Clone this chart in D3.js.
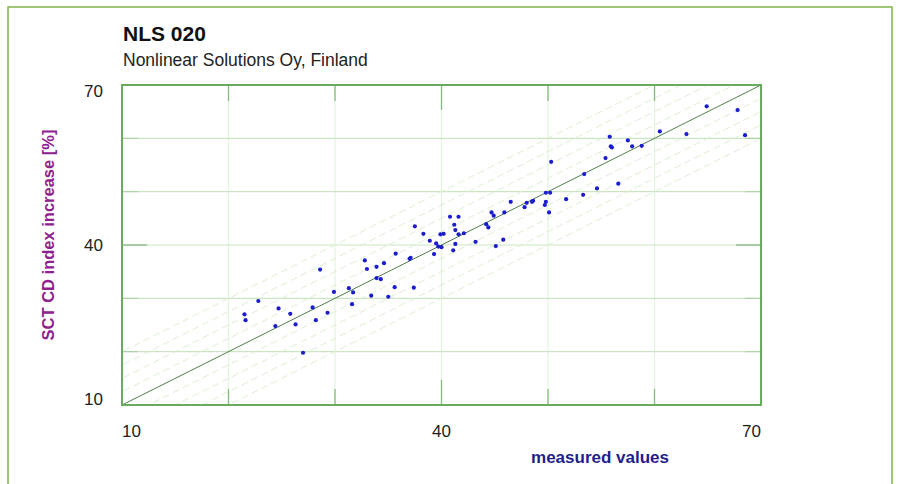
<!DOCTYPE html>
<html>
<head>
<script src="https://d3js.org/d3.v7.min.js"></script>
<style>
    body { margin: 0; background: #fff; }
    text { font-family: "Liberation Sans", Arial, sans-serif; }
</style>
</head>
<body>
<svg id="chart" width="898" height="484"></svg>
<script>
    // measured value vs SCT CD index increase [%]
    var measured = [21.5, 21.6, 22.8, 24.4, 24.7, 25.8, 26.3, 27.0, 27.9, 28.2,
        28.6, 29.3, 29.9, 31.3, 31.6, 31.7, 32.8, 33.0, 33.4, 33.9,
        33.9, 34.3, 34.6, 35.0, 35.6, 35.7, 37.0, 37.1, 37.4, 37.5,
        38.3, 38.9, 39.3, 39.5, 39.7, 40.0, 39.9, 40.2, 40.8, 41.2,
        41.3, 41.6, 41.6, 42.1, 41.3, 41.1, 43.2, 44.2, 44.4, 44.7,
        44.9, 45.1, 45.8, 45.9, 46.5, 47.8, 48.0, 48.5, 48.6, 49.7,
        49.8, 49.8, 50.2, 50.1, 50.3, 51.7, 53.3, 53.4, 54.6, 55.4,
        55.8, 55.9, 56.0, 56.6, 57.5, 57.9, 58.8, 60.5, 63.0, 64.9,
        67.8, 68.5];
    var sctIncrease = [27.0, 25.9, 29.5, 24.8, 28.1, 27.1, 25.1, 19.8, 28.3, 25.9,
        35.4, 27.3, 31.2, 31.9, 28.9, 31.1, 37.1, 35.5, 30.5, 35.9,
        33.8, 33.6, 36.6, 30.3, 32.1, 38.4, 37.4, 37.6, 32.0, 43.5,
        42.1, 40.8, 38.3, 40.3, 39.7, 39.6, 42.0, 42.1, 45.3, 43.8,
        42.8, 45.3, 42.0, 42.2, 40.2, 39.0, 40.6, 43.9, 43.3, 46.1,
        45.5, 39.8, 41.0, 46.1, 48.1, 47.1, 47.9, 48.1, 48.3, 47.5,
        48.1, 49.8, 49.8, 46.1, 55.6, 48.6, 49.4, 53.3, 50.6, 56.3,
        60.3, 58.5, 58.3, 51.5, 59.6, 58.5, 58.6, 61.3, 60.8, 66.0,
        65.3, 60.6];

    var gridValues = [10, 20, 30, 40, 50, 60, 70];
    var tickLabels = [10, 40, 70];
    var bandOffsets = [-10, -7.5, -5, -2.5, 2.5, 5, 7.5, 10];

    var points = measured.map(function (m, i) {
        return { x: m, y: sctIncrease[i] };
    });

    var svg = d3.select("#chart");
    var plotLeft = 122, plotRight = 761, plotTop = 85, plotBottom = 405;

    var x = d3.scaleLinear().domain([10, 70]).range([plotLeft, plotRight]);
    var y = d3.scaleLinear().domain([10, 70]).range([plotBottom, plotTop]);

    // outer frame
    svg.append("rect")
        .attr("x", 8).attr("y", 7)
        .attr("width", 884).attr("height", 490)
        .attr("fill", "none")
        .attr("stroke", "#7fb54c")
        .attr("stroke-width", 1.5);

    svg.append("text")
        .attr("x", 123).attr("y", 41)
        .attr("font-size", 21).attr("font-weight", "bold")
        .attr("fill", "#111")
        .text("NLS 020");

    svg.append("text")
        .attr("x", 123).attr("y", 66)
        .attr("font-size", 17.5)
        .attr("fill", "#222")
        .text("Nonlinear Solutions Oy, Finland");

    svg.append("defs").append("clipPath").attr("id", "plotClip")
        .append("rect")
        .attr("x", plotLeft).attr("y", plotTop)
        .attr("width", plotRight - plotLeft).attr("height", plotBottom - plotTop);

    var inner = gridValues.slice(1, -1);

    // grid
    svg.append("g").selectAll("line").data(inner).enter()
        .append("line")
        .attr("x1", function (d) { return x(d); })
        .attr("x2", function (d) { return x(d); })
        .attr("y1", plotTop).attr("y2", plotBottom)
        .attr("stroke", "#e2f5dd").attr("stroke-width", 1.2);

    svg.append("g").selectAll("line").data(inner).enter()
        .append("line")
        .attr("y1", function (d) { return y(d); })
        .attr("y2", function (d) { return y(d); })
        .attr("x1", plotLeft).attr("x2", plotRight)
        .attr("stroke", "#c9e5c1").attr("stroke-width", 1.2);

    // dashed bands parallel to the diagonal
    var plot = svg.append("g").attr("clip-path", "url(#plotClip)");
    plot.selectAll(".band").data(bandOffsets).enter()
        .append("line")
        .attr("class", "band")
        .attr("x1", x(0)).attr("x2", x(80))
        .attr("y1", function (d) { return y(0 + d); })
        .attr("y2", function (d) { return y(80 + d); })
        .attr("stroke", "#dcefd0")
        .attr("stroke-width", 1)
        .attr("stroke-dasharray", "7,4");

    // ticks
    var ticks = svg.append("g").attr("stroke", "#86ba80").attr("stroke-width", 1.3);
    inner.forEach(function (v) {
        var len = tickLabels.indexOf(v) >= 0 ? 25 : 16;
        ticks.append("line").attr("x1", x(v)).attr("x2", x(v)).attr("y1", plotTop).attr("y2", plotTop + len);
        ticks.append("line").attr("x1", x(v)).attr("x2", x(v)).attr("y1", plotBottom).attr("y2", plotBottom - len);
        ticks.append("line").attr("y1", y(v)).attr("y2", y(v)).attr("x1", plotLeft).attr("x2", plotLeft + len)
            .attr("stroke-opacity", len > 20 ? 1 : 0.4);
        ticks.append("line").attr("y1", y(v)).attr("y2", y(v)).attr("x1", plotRight).attr("x2", plotRight - len)
            .attr("stroke-opacity", len > 20 ? 1 : 0.4);
    });

    // identity line
    plot.append("line")
        .attr("x1", x(10)).attr("y1", y(10))
        .attr("x2", x(70)).attr("y2", y(70))
        .attr("stroke", "#4f7d4a").attr("stroke-width", 1);

    // frame of plot
    svg.append("rect")
        .attr("x", plotLeft).attr("y", plotTop)
        .attr("width", plotRight - plotLeft).attr("height", plotBottom - plotTop)
        .attr("fill", "none")
        .attr("stroke", "#6aaa5f").attr("stroke-width", 2);

    // points
    svg.append("g").selectAll("circle").data(points).enter()
        .append("circle")
        .attr("cx", function (d) { return x(d.x); })
        .attr("cy", function (d) { return y(d.y); })
        .attr("r", 2.1)
        .attr("fill", "#1c1ccf");

    // tick labels
    svg.append("g").selectAll("text").data(tickLabels).enter()
        .append("text")
        .attr("x", plotLeft - 19)
        .attr("y", function (d, i) { return y(d) + [0, 6, 12][i]; })
        .attr("text-anchor", "end")
        .attr("font-size", 17).attr("fill", "#222")
        .text(function (d) { return d; });

    svg.append("g").selectAll("text").data(tickLabels).enter()
        .append("text")
        .attr("x", function (d) { return x(d); })
        .attr("y", 437)
        .attr("text-anchor", function (d, i) { return ["start", "middle", "end"][i]; })
        .attr("font-size", 17).attr("fill", "#222")
        .text(function (d) { return d; });

    // axis titles
    svg.append("text")
        .attr("transform", "translate(54,235) rotate(-90)")
        .attr("text-anchor", "middle")
        .attr("font-size", 16.5).attr("font-weight", "bold")
        .attr("fill", "#8e2090")
        .text("SCT CD index increase [%]");

    svg.append("text")
        .attr("x", 600).attr("y", 463)
        .attr("text-anchor", "middle")
        .attr("font-size", 17).attr("font-weight", "bold")
        .attr("fill", "#1f1f8c")
        .text("measured values");
</script>
</body>
</html>
